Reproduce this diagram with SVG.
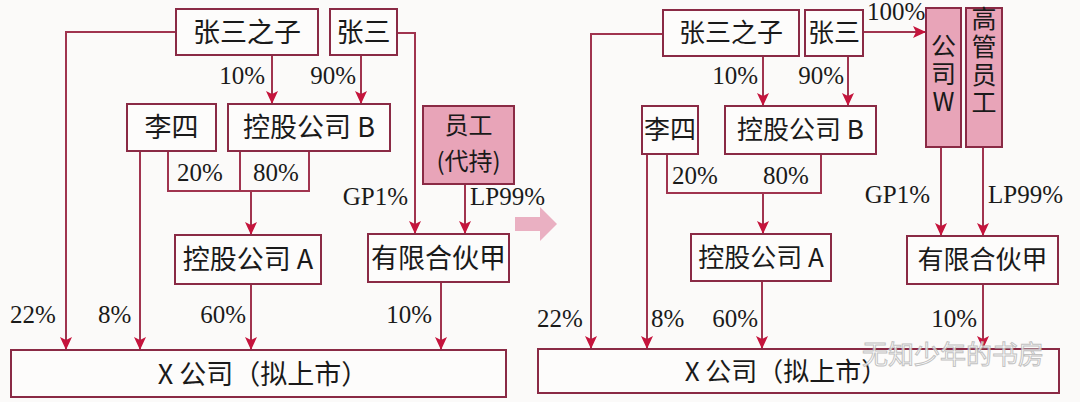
<svg xmlns="http://www.w3.org/2000/svg" width="1080" height="402" viewBox="0 0 1080 402">
<style>
.box{fill:#fdfcfb;stroke:#8a2a45;stroke-width:2}
.pink{fill:#e8a4b8;stroke:#8a2a45;stroke-width:2}
.cn{font-family:"Noto Sans CJK SC","Noto Sans CJK JP",sans-serif;fill:#1a1a1a;text-anchor:middle}
.vt{font-family:"Noto Sans CJK SC","Noto Sans CJK JP",sans-serif;fill:#1a1a1a;writing-mode:vertical-rl;text-orientation:upright;font-size:25px;letter-spacing:3px}
.ln{fill:none;stroke:#a0344f;stroke-width:2}
.ar{marker-end:url(#ah)}
.pc{font-family:"Liberation Serif",serif;font-size:25px;fill:#1a1a1a}
</style>
<defs>
<marker id="ah" markerUnits="userSpaceOnUse" markerWidth="14" markerHeight="14" refX="13" refY="6" orient="auto">
<path d="M0,0 L13,6 L0,12 L3,6 z" fill="#c5143c"/>
</marker>
</defs>
<rect width="1080" height="402" fill="#fbfaf9"/>

<g id="connectors">
<!-- left -->
<path class="ln ar" d="M176,32 H66 V350"/>
<path class="ln ar" d="M397,33 H415 V234"/>
<path class="ln ar" d="M272,55 V104"/>
<path class="ln ar" d="M361,55 V104"/>
<path class="ln ar" d="M140,151 V350"/>
<path class="ln" d="M168,151 V191 H309 V151 M240,151 V191"/>
<path class="ln ar" d="M251,191 V235"/>
<path class="ln ar" d="M465,184 V234"/>
<path class="ln ar" d="M251,284 V350"/>
<path class="ln ar" d="M441,282 V350"/>
<!-- right -->
<path class="ln ar" d="M663,34 H591 V349"/>
<path class="ln ar" d="M863,32 H926"/>
<path class="ln ar" d="M763,56 V106"/>
<path class="ln ar" d="M848,56 V106"/>
<path class="ln ar" d="M647,154 V349"/>
<path class="ln" d="M667,154 V193 H821 V154"/>
<path class="ln ar" d="M763,193 V234"/>
<path class="ln ar" d="M941,147 V236"/>
<path class="ln ar" d="M983,147 V236"/>
<path class="ln ar" d="M762,281 V349"/>
<path class="ln ar" d="M983,284 V349"/>
<!-- transition arrow -->
<polygon points="515,217 540,217 540,207 557,224 540,241 540,231 515,231" fill="#eab0c2"/>
</g>

<g id="labels">
<text class="pc" x="265" y="84" text-anchor="end">10%</text>
<text class="pc" x="356" y="84" text-anchor="end">90%</text>
<text class="pc" x="177" y="181">20%</text>
<text class="pc" x="253" y="181">80%</text>
<text class="pc" x="408" y="205" text-anchor="end">GP1%</text>
<text class="pc" x="470" y="205">LP99%</text>
<text class="pc" x="10" y="323">22%</text>
<text class="pc" x="98" y="323">8%</text>
<text class="pc" x="246" y="323" text-anchor="end">60%</text>
<text class="pc" x="432" y="323" text-anchor="end">10%</text>

<text class="pc" x="867" y="20">100%</text>
<text class="pc" x="758" y="84" text-anchor="end">10%</text>
<text class="pc" x="844" y="84" text-anchor="end">90%</text>
<text class="pc" x="672" y="184">20%</text>
<text class="pc" x="763" y="184">80%</text>
<text class="pc" x="930" y="203" text-anchor="end">GP1%</text>
<text class="pc" x="988" y="203">LP99%</text>
<text class="pc" x="537" y="327">22%</text>
<text class="pc" x="651" y="327">8%</text>
<text class="pc" x="758" y="327" text-anchor="end">60%</text>
<text class="pc" x="977" y="327" text-anchor="end">10%</text>
</g>

<!-- left diagram nodes -->
<g id="L_zhangsanzhizi"><rect class="box" x="176" y="9" width="142" height="46"/><text class="cn" x="247" y="42" font-size="27">张三之子</text></g>
<g id="L_zhangsan"><rect class="box" x="330" y="9" width="67" height="46"/><text class="cn" x="363.5" y="42" font-size="27">张三</text></g>
<g id="L_lisi"><rect class="box" x="127" y="104" width="89" height="47"/><text class="cn" x="171.5" y="137" font-size="27">李四</text></g>
<g id="L_kgb"><rect class="box" x="228" y="104" width="162" height="47"/><text class="cn" x="309" y="137" font-size="27">控股公司 B</text></g>
<g id="L_yuangong"><rect class="pink" x="423" y="106" width="91" height="78"/><text class="cn" font-size="24"><tspan x="468.5" y="134">员工</tspan><tspan x="468.5" y="170">(代持)</tspan></text></g>
<g id="L_kga"><rect class="box" x="175" y="235" width="146" height="49"/><text class="cn" x="248" y="269" font-size="27">控股公司 A</text></g>
<g id="L_youxian"><rect class="box" x="368" y="234" width="141" height="48"/><text class="cn" x="438.5" y="268" font-size="27">有限合伙甲</text></g>
<g id="L_x"><rect class="box" x="11" y="350" width="495" height="47"/><text class="cn" x="263" y="384" font-size="27">X 公司（拟上市）</text></g>

<!-- right diagram nodes -->
<g id="R_zhangsanzhizi"><rect class="box" x="663" y="10" width="136" height="46"/><text class="cn" x="731" y="42" font-size="26">张三之子</text></g>
<g id="R_zhangsan"><rect class="box" x="805" y="10" width="58" height="46"/><text class="cn" x="834" y="42" font-size="26">张三</text></g>
<g id="R_gongsiW"><rect class="pink" x="926" y="8" width="35" height="139"/><text class="vt" x="943.5" y="33">公司W</text></g>
<g id="R_gaoguan"><rect class="pink" x="966" y="8" width="36" height="139"/><text class="vt" x="984" y="6">高管员工</text></g>
<g id="R_lisi"><rect class="box" x="642" y="106" width="56" height="48"/><text class="cn" x="670" y="139" font-size="26">李四</text></g>
<g id="R_kgb"><rect class="box" x="725" y="106" width="151" height="48"/><text class="cn" x="800.5" y="139" font-size="26">控股公司 B</text></g>
<g id="R_kga"><rect class="box" x="691" y="234" width="140" height="47"/><text class="cn" x="761" y="267" font-size="26">控股公司 A</text></g>
<g id="R_youxian"><rect class="box" x="907" y="236" width="151" height="48"/><text class="cn" x="982.5" y="269" font-size="26">有限合伙甲</text></g>
<g id="R_x"><rect class="box" x="538" y="349" width="521" height="44"/><text class="cn" x="786" y="381" font-size="26">X 公司（拟上市）</text></g>

<text x="862" y="364" font-family="'Noto Sans CJK SC',sans-serif" font-size="26" fill="#ffffff" stroke="#b8b8b8" stroke-width="1" opacity="0.85">无知少年的书房</text>
</svg>
